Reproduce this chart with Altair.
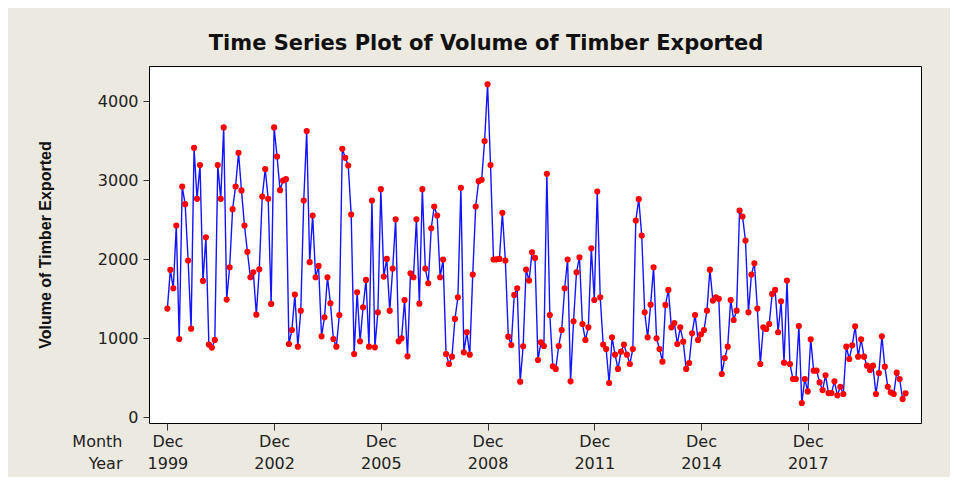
import altair as alt
import pandas as pd

# Monthly volume of timber exported, starting Dec 1999
vol_part1 = [1377, 1867, 1634, 2428, 992, 2922, 2698, 1985, 1123, 3412, 2766, 3193,
             1727, 2280, 921, 883, 980, 3193, 2766, 3670, 1491, 1900, 2635, 2922,
             3349, 2872, 2428, 2095, 1774, 1837, 1300, 1875, 2794, 3142, 2766, 1436,
             3670, 3302, 2876, 2998, 3015, 929, 1106, 1554, 895, 1351, 2745, 3623,
             1964, 2555, 1774, 1917, 1026, 1267, 1774, 1444, 992, 895, 1296, 3400,
             3285, 3188, 2568, 802, 1584, 963, 1394, 1740, 895, 2745, 887, 1330]
vol_part2 = [2888, 1782, 2006, 1351, 1883, 2508, 963, 1001, 1486, 773, 1824, 1774,
             2508, 1439, 2888, 1883, 1698, 2394, 2669, 2555, 1774, 1997, 802, 676,
             769, 1246, 1520, 2905, 823, 1077, 794, 1807, 2669, 2990, 3007, 3497,
             4215, 3193, 1998, 2000, 2006, 2589, 1985, 1022, 916, 1550, 1634, 452,
             900, 1871, 1731, 2090, 2018]
vol_part3 = [726, 950, 904, 3083, 1296, 646, 613, 904, 1106, 1634, 1997, 456,
             1216, 1837, 2027, 1182, 980, 1140, 2141, 1486, 2859, 1520, 921, 866,
             435, 1013, 794, 613, 832, 921, 794]
vol_part4 = [676, 866, 2491, 2762, 2302, 1330, 1013, 1427, 1900, 1001, 866, 705,
             1423, 1613, 1140, 1195, 929, 1140, 958, 613, 688, 1064, 1296, 980,
             1051, 1106, 1351, 1870, 1478, 1520, 1500, 549, 752]
vol_part5 = [895, 1486, 1233, 1351, 2618, 2542, 2238, 1330, 1807, 1951, 1377, 676,
             1140, 1120, 1182, 1563, 1613, 1077, 1470, 693, 1731, 676, 486, 486,
             1157, 182, 486, 329, 988, 591, 591, 443]
vol_part6 = [346, 532, 308, 308, 456, 279, 388, 296, 895, 739, 912, 1153,
             769, 988, 769, 655, 600, 655, 296, 562, 1026, 642, 388, 317,
             296, 566, 486, 232, 304]

volume = vol_part1 + vol_part2 + vol_part3 + vol_part4 + vol_part5 + vol_part6

tick_month = "Dec"
tick_years = ["1999", "2002", "2005", "2008", "2011", "2014", "2017"]
tick_step = 36
y_ticks = [0, 1000, 2000, 3000, 4000]

df = pd.DataFrame({"t": list(range(len(volume))), "volume": volume})

years_js = "[" + ",".join("'%s'" % y for y in tick_years) + "]"
label_expr = "['%s', %s[round(datum.value/%d)]]" % (tick_month, years_js, tick_step)

FONT = "DejaVu Sans"

x = alt.X(
    "t:Q",
    scale=alt.Scale(domain=[-6.2, 254.2], nice=False, zero=False),
    axis=alt.Axis(
        values=[i * tick_step for i in range(len(tick_years))],
        labelExpr=label_expr,
        title=["Month", "Year"],
        titleX=-27, titleY=10, titleAlign="right", titleBaseline="top",
        titleAngle=0, titleFontWeight="normal", titleFontSize=16,
        titleLineHeight=22, titleFont=FONT, titleColor="#222222",
        labelFont=FONT, labelFontSize=16, labelColor="#222222",
        labelLineHeight=22, labelBaseline="top", labelPadding=3,
        labelAlign="center",
        tickSize=7, tickColor="#333333", domain=False, grid=False,
    ),
)
y = alt.Y(
    "volume:Q",
    scale=alt.Scale(domain=[-71, 4447], nice=False, zero=False),
    axis=alt.Axis(
        values=y_ticks, format="d",
        title="Volume of Timber Exported",
        titleFont="Liberation Sans", titleFontSize=16,
        titleFontWeight="bold", titleColor="#111111",
        titleX=-104, titleBaseline="middle", titleAngle=-90,
        labelFont=FONT, labelFontSize=16, labelColor="#222222",
        labelPadding=5, tickSize=6, tickColor="#333333",
        domain=False, grid=False,
    ),
)

base = alt.Chart(df)
line = base.mark_line(color="#1414ff", strokeWidth=1.4).encode(x=x, y=y)
pts = base.mark_circle(color="#ff0000", opacity=1, size=38).encode(x="t:Q", y="volume:Q")

chart = (
    alt.layer(line, pts)
    .properties(
        width=772, height=357,
        padding={"left": 141, "top": 58, "right": 29, "bottom": 54},
        autosize=alt.AutoSizeParams(type="none"),
        background="#ECE9E0",
        title=alt.TitleParams(
            "Time Series Plot of Volume of Timber Exported",
            font=FONT, fontSize=21, fontWeight="bold", color="#111111",
            anchor="middle", offset=12, dx=-49,
        ),
    )
    .configure_view(stroke="#000000", strokeWidth=1, fill="#ffffff")
)

chart.save("out.html", embed_options={"renderer": "svg", "actions": False})
